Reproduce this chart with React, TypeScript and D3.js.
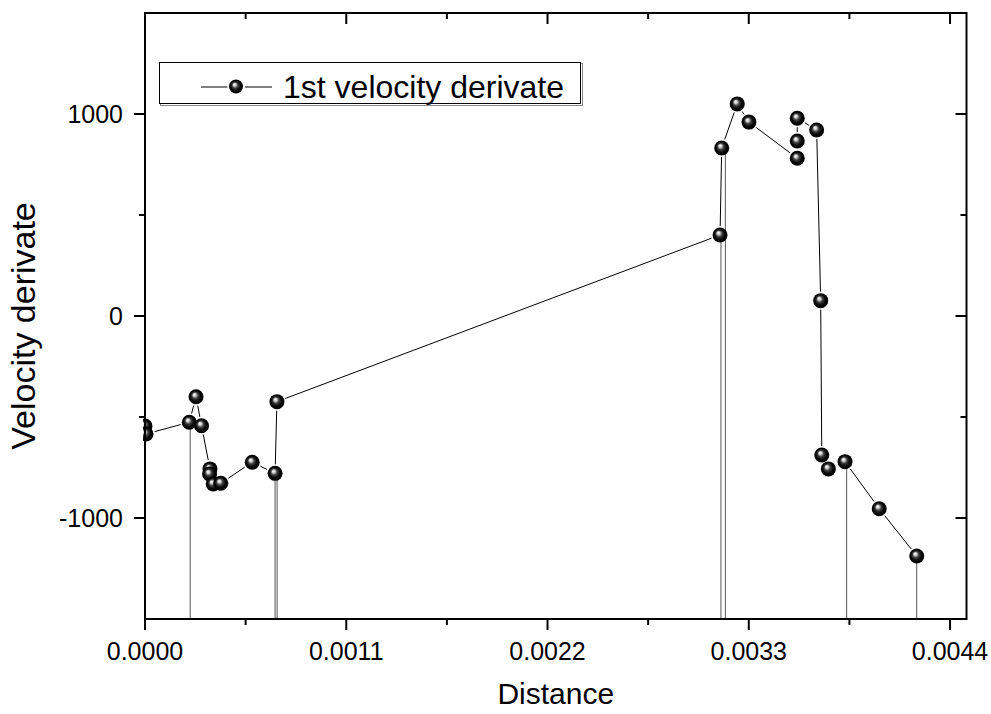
import * as d3 from 'd3';
import React, { useEffect, useRef } from 'react';

// series, in the order the points were plotted
const distance = [
  0, 0.0000055, 0.000242, 0.000279, 0.000309, 0.000355, 0.000353, 0.000373,
  0.000414, 0.000586, 0.000711, 0.000721, 0.003143, 0.003152, 0.003237,
  0.003301, 0.003565, 0.003565, 0.003565, 0.003671, 0.003693, 0.003699,
  0.003735, 0.003826, 0.004013, 0.004218,
];
const velocityDerivate = [
  -545, -584, -526, -400, -543, -757, -782, -832, -828, -724, -779, -424, 401,
  832, 1050, 960, 781, 866, 979, 921, 76, -688, -757, -721, -954, -1188,
];

// spikes going far below the visible range
const dropDistance = [0.000247, 0.000711, 0.000722, 0.003148, 0.003172, 0.003835, 0.004218];
const dropFrom = [-526, -779, -779, 401, 832, -721, -1188];

const xTicks = [0, 0.0011, 0.0022, 0.0033, 0.0044];
const xMinorTicks = [0.00055, 0.00165, 0.00275, 0.00385];
const yTicks = [-1000, 0, 1000];
const yMinorTicks = [-500, 500];

const seriesName = '1st velocity derivate';
const xTitle = 'Distance';
const yTitle = 'Velocity derivate';

const width = 991;
const height = 714;
const margin = { left: 145, right: 966.5, top: 13, bottom: 619 };
const font = 'Arial, "Liberation Sans", sans-serif';
const r = 7.5;

export default function App() {
  const ref = useRef<SVGSVGElement>(null);

  useEffect(() => {
    const svg = d3.select(ref.current);
    svg.selectAll('*').remove();

    const x = d3.scaleLinear().domain([0, 0.00449]).range([margin.left, margin.right]);
    const y = d3.scaleLinear().domain([-1500, 1500]).range([margin.bottom, margin.top]);

    const defs = svg.append('defs');
    const grad = defs
      .append('radialGradient')
      .attr('id', 'ball')
      .attr('cx', '50%')
      .attr('cy', '50%')
      .attr('r', '50%')
      .attr('fx', '38%')
      .attr('fy', '34%');
    [
      [0, '#ffffff'],
      [0.18, '#d6d6d6'],
      [0.42, '#404040'],
      [0.68, '#0a0a0a'],
      [1, '#000000'],
    ].forEach(([o, c]) => grad.append('stop').attr('offset', o as number).attr('stop-color', c as string));

    defs
      .append('clipPath')
      .attr('id', 'plotClip')
      .append('rect')
      .attr('x', margin.left - 2)
      .attr('y', margin.top)
      .attr('width', margin.right - margin.left + 2)
      .attr('height', margin.bottom - margin.top);

    const plot = svg.append('g').attr('clip-path', 'url(#plotClip)');

    // drop lines
    plot
      .selectAll('line.drop')
      .data(dropDistance)
      .join('line')
      .attr('class', 'drop')
      .attr('x1', (d) => x(d))
      .attr('x2', (d) => x(d))
      .attr('y1', (d, i) => y(dropFrom[i]))
      .attr('y2', margin.bottom + 5)
      .attr('stroke', '#555')
      .attr('stroke-width', 1);

    // connecting segments, with a small gap round each symbol
    const pts = distance.map((d, i) => [x(d), y(velocityDerivate[i])]);
    const gap = r + 1.5;
    const segs = d3.pairs(pts).filter(([a, b]) => Math.hypot(b[0] - a[0], b[1] - a[1]) > 2 * gap);
    plot
      .selectAll('line.seg')
      .data(segs)
      .join('line')
      .attr('class', 'seg')
      .each(function ([a, b]) {
        const len = Math.hypot(b[0] - a[0], b[1] - a[1]);
        const ux = (b[0] - a[0]) / len;
        const uy = (b[1] - a[1]) / len;
        d3.select(this)
          .attr('x1', a[0] + ux * gap)
          .attr('y1', a[1] + uy * gap)
          .attr('x2', b[0] - ux * gap)
          .attr('y2', b[1] - uy * gap);
      })
      .attr('stroke', '#000')
      .attr('stroke-width', 1);

    plot
      .selectAll('circle')
      .data(pts)
      .join('circle')
      .attr('cx', (d) => d[0])
      .attr('cy', (d) => d[1])
      .attr('r', r)
      .attr('fill', 'url(#ball)');

    // axes frame
    const axis = svg.append('g').attr('stroke', '#000').attr('stroke-width', 2);
    axis
      .append('rect')
      .attr('x', margin.left)
      .attr('y', margin.top)
      .attr('width', margin.right - margin.left)
      .attr('height', margin.bottom - margin.top)
      .attr('fill', 'none');

    const major = 11;
    const minor = 6;
    const xAll = [...xTicks.map((t) => [t, major]), ...xMinorTicks.map((t) => [t, minor])];
    const yAll = [...yTicks.map((t) => [t, major]), ...yMinorTicks.map((t) => [t, minor])];

    // bottom (outward) and top (inward)
    axis
      .selectAll('line.xb')
      .data(xAll)
      .join('line')
      .attr('class', 'xb')
      .attr('x1', (d) => x(d[0]))
      .attr('x2', (d) => x(d[0]))
      .attr('y1', margin.bottom)
      .attr('y2', (d) => margin.bottom + d[1]);
    axis
      .selectAll('line.xt')
      .data(xAll)
      .join('line')
      .attr('class', 'xt')
      .attr('x1', (d) => x(d[0]))
      .attr('x2', (d) => x(d[0]))
      .attr('y1', margin.top)
      .attr('y2', (d) => margin.top + d[1]);
    // left (outward) and right (inward)
    axis
      .selectAll('line.yl')
      .data(yAll)
      .join('line')
      .attr('class', 'yl')
      .attr('y1', (d) => y(d[0]))
      .attr('y2', (d) => y(d[0]))
      .attr('x1', margin.left)
      .attr('x2', (d) => margin.left - d[1]);
    axis
      .selectAll('line.yr')
      .data(yAll)
      .join('line')
      .attr('class', 'yr')
      .attr('y1', (d) => y(d[0]))
      .attr('y2', (d) => y(d[0]))
      .attr('x1', margin.right)
      .attr('x2', (d) => margin.right - d[1]);

    const labels = svg.append('g').attr('font-family', font).attr('fill', '#000');
    labels
      .selectAll('text.xl')
      .data(xTicks)
      .join('text')
      .attr('class', 'xl')
      .attr('x', (d) => x(d))
      .attr('y', 660)
      .attr('text-anchor', 'middle')
      .attr('font-size', 25)
      .text((d) => d.toFixed(4));
    labels
      .selectAll('text.yl')
      .data(yTicks)
      .join('text')
      .attr('class', 'yl')
      .attr('x', 123)
      .attr('y', (d) => y(d) + 9)
      .attr('text-anchor', 'end')
      .attr('font-size', 25)
      .text((d) => String(d));
    labels
      .append('text')
      .attr('x', (margin.left + margin.right) / 2)
      .attr('y', 704)
      .attr('text-anchor', 'middle')
      .attr('font-size', 30)
      .text(xTitle);
    labels
      .append('text')
      .attr('transform', 'translate(35,326) rotate(-90)')
      .attr('text-anchor', 'middle')
      .attr('font-size', 34)
      .text(yTitle);

    // legend
    const lg = svg.append('g');
    lg.append('rect')
      .attr('x', 160.5)
      .attr('y', 63.5)
      .attr('width', 422)
      .attr('height', 42)
      .attr('fill', 'none')
      .attr('stroke', '#888')
      .attr('stroke-width', 1);
    lg.append('rect')
      .attr('x', 159.5)
      .attr('y', 62.5)
      .attr('width', 421)
      .attr('height', 41)
      .attr('fill', '#fff')
      .attr('stroke', '#000')
      .attr('stroke-width', 1);
    lg.append('line').attr('x1', 201).attr('x2', 227.5).attr('y1', 87).attr('y2', 87).attr('stroke', '#000');
    lg.append('line').attr('x1', 245).attr('x2', 272).attr('y1', 87).attr('y2', 87).attr('stroke', '#000');
    lg.append('circle').attr('cx', 236).attr('cy', 86.5).attr('r', 7).attr('fill', 'url(#ball)');
    lg.append('text')
      .attr('x', 283)
      .attr('y', 98)
      .attr('font-family', font)
      .attr('font-size', 32)
      .text(seriesName);
  }, []);

  return (
    <svg
      ref={ref}
      width={width}
      height={height}
      style={{ position: 'absolute', left: 0, top: 0, background: '#fff' }}
    />
  );
}
